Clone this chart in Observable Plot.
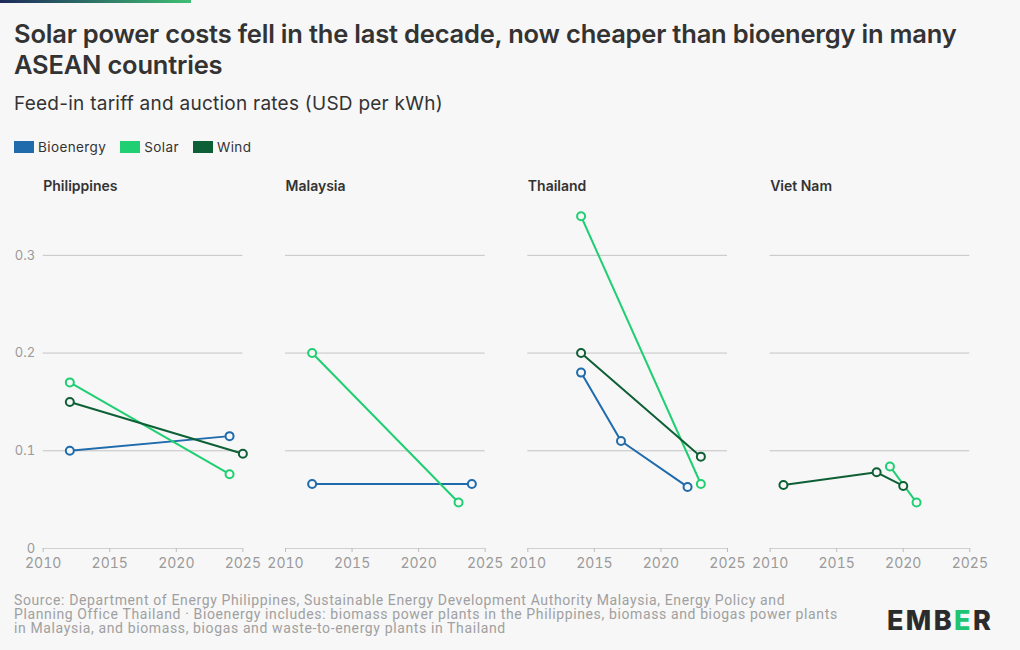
<!DOCTYPE html>
<html>
<head>
<meta charset="utf-8">
<script src="https://cdn.jsdelivr.net/npm/d3@7"></script>
<script src="https://cdn.jsdelivr.net/npm/@observablehq/plot@0.6"></script>
<style>
  html, body { margin: 0; padding: 0; background: #f7f7f7; }
  body { width: 1020px; height: 650px; position: relative; overflow: hidden; font-family: Inter, "Noto Sans", sans-serif; }
  #bar { position: absolute; left: 0; top: 0; width: 191px; height: 3px; background: linear-gradient(90deg, #1d2b5a, #3fbf73); }
  #title { position: absolute; left: 14px; top: 18px; font-size: 25.5px; font-weight: 600; color: #333; line-height: 31px; letter-spacing: -0.2px; white-space: nowrap; }
  #subtitle { position: absolute; left: 14px; top: 92px; font-size: 19px; letter-spacing: 0.25px; color: #333; white-space: nowrap; }
  #legend { position: absolute; left: 14px; top: 139px; display: flex; font-size: 13.5px; letter-spacing: 0.4px; color: #333; }
  #legend .item { display: flex; align-items: center; margin-right: 14px; }
  #legend .sw { width: 20px; height: 12px; margin-right: 4px; }
  #chart { position: absolute; left: 0; top: 170px; }
  #footer { position: absolute; left: 14px; top: 593px; font-family: Roboto, sans-serif; font-size: 14px; letter-spacing: 0.62px; line-height: 14.2px; color: #a0a0a0; white-space: nowrap; }
  #logo { position: absolute; left: 887px; top: 604px; font-size: 27px; font-weight: 800; color: #2b2b2b; letter-spacing: 2.4px; }
  #logo .g { color: #20c472; }
</style>
</head>
<body>
<div id="bar"></div>
<div id="title">Solar power costs fell in the last decade, now cheaper than bioenergy in many<br>ASEAN countries</div>
<div id="subtitle">Feed-in tariff and auction rates (USD per kWh)</div>
<div id="legend"></div>
<div id="chart"></div>
<div id="footer">Source: Department of Energy Philippines, Sustainable Energy Development Authority Malaysia, Energy Policy and<br>Planning Office Thailand · Bioenergy includes: biomass power plants in the Philippines, biomass and biogas power plants<br>in Malaysia, and biomass, biogas and waste-to-energy plants in Thailand</div>
<div id="logo">EMB<span class="g">E</span>R</div>
<script>
const countries = ["Philippines", "Malaysia", "Thailand", "Viet Nam"];
const technologies = ["Bioenergy", "Solar", "Wind"];
const techColors = ["#1f6bab", "#1fcf72", "#0d5f35"];
const xTicks = [2010, 2015, 2020, 2025];
const yTicks = [0, 0.1, 0.2, 0.3];

const rowCountry = [
  "Philippines", "Philippines", "Philippines", "Philippines", "Philippines", "Philippines",
  "Malaysia", "Malaysia", "Malaysia", "Malaysia",
  "Thailand", "Thailand", "Thailand", "Thailand", "Thailand", "Thailand", "Thailand",
  "Viet Nam", "Viet Nam", "Viet Nam", "Viet Nam", "Viet Nam"
];
const rowTech = [
  "Bioenergy", "Bioenergy", "Solar", "Solar", "Wind", "Wind",
  "Bioenergy", "Bioenergy", "Solar", "Solar",
  "Bioenergy", "Bioenergy", "Bioenergy", "Solar", "Solar", "Wind", "Wind",
  "Solar", "Solar", "Wind", "Wind", "Wind"
];
const rowYear = [
  2012, 2024, 2012, 2024, 2012, 2025,
  2012, 2024, 2012, 2023,
  2014, 2017, 2022, 2014, 2023, 2014, 2023,
  2019, 2021, 2011, 2018, 2020
];
const rowValue = [
  0.100, 0.115, 0.170, 0.076, 0.150, 0.097,
  0.066, 0.066, 0.200, 0.047,
  0.180, 0.110, 0.063, 0.340, 0.066, 0.200, 0.094,
  0.084, 0.047, 0.065, 0.078, 0.064
];

const data = rowCountry.map((c, i) => ({country: c, tech: rowTech[i], year: rowYear[i], value: rowValue[i]}));
const titles = countries.map(c => ({country: c}));

// legend
const legend = document.getElementById("legend");
technologies.forEach((t, i) => {
  const it = document.createElement("div");
  it.className = "item";
  it.innerHTML = `<span class="sw" style="background:${techColors[i]}"></span><span>${t}</span>`;
  legend.appendChild(it);
});

const chart = Plot.plot({
  width: 1020,
  height: 410,
  marginLeft: 42.7,
  marginRight: 50.7,
  marginTop: 36,
  marginBottom: 32,
  style: {background: "transparent", fontFamily: "Inter, 'Noto Sans', sans-serif", fontSize: "13px", overflow: "visible"},
  fx: {domain: countries, paddingInner: 0.176, paddingOuter: 0, round: false, axis: null, label: null},
  x: {domain: [2010, 2025], label: null},
  y: {domain: [0, 0.35], label: null},
  color: {domain: technologies, range: techColors},
  marks: [
    Plot.gridY(yTicks.filter(d => d > 0), {stroke: "#c4c4c4", strokeOpacity: 1, strokeWidth: 1}),
    Plot.ruleY([0], {stroke: "#d0d0d0", strokeWidth: 1}),
    Plot.axisX(xTicks, {tickSize: 4, tickPadding: 6, stroke: "#bdbdbd", fill: "#9a9a9a", fontSize: 14, tickFormat: d => String(d), label: null}),
    Plot.axisY(yTicks, {tickSize: 0, tickPadding: 8, fill: "#9a9a9a", fontSize: 13, tickFormat: d => d === 0 ? "0" : d.toFixed(1), label: null}),
    Plot.text(titles, {fx: "country", text: "country", frameAnchor: "top-left", lineAnchor: "top", dy: -25, fontWeight: 600, fontSize: 14, fill: "#333"}),
    Plot.line(data, {fx: "country", x: "year", y: "value", z: "tech", stroke: "tech", strokeWidth: 2}),
    Plot.dot(data, {fx: "country", x: "year", y: "value", stroke: "tech", r: 4, strokeWidth: 2, fill: "#f7f7f7"})
  ]
});
document.getElementById("chart").appendChild(chart);
</script>
</body>
</html>
